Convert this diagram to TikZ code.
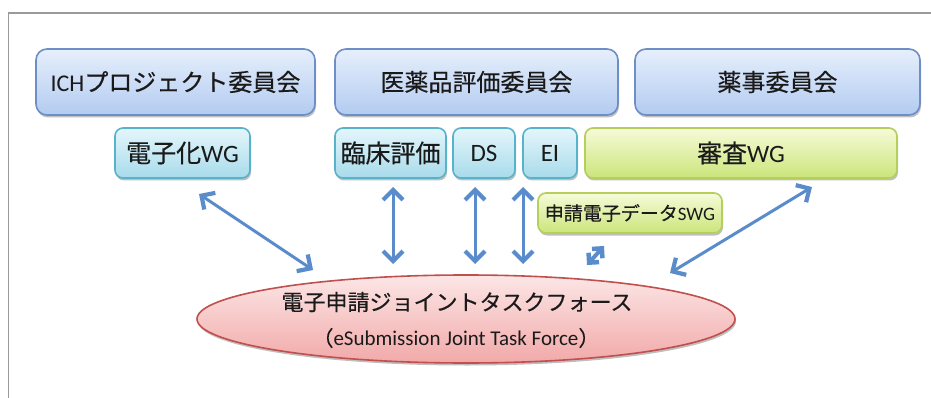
\documentclass[tikz,border=0pt]{standalone}
\usepackage{fontspec}
\setmainfont{Carlito}
\newfontfamily\cjk[FakeBold=0.4]{Noto Sans CJK JP}
\usetikzlibrary{arrows.meta,shadows,shapes.geometric}
\definecolor{frameg}{HTML}{9A9A9A}
\definecolor{blueT}{HTML}{E6EFFC}
\definecolor{blueB}{HTML}{B3CBF1}
\definecolor{blueD}{HTML}{6E8FC6}
\definecolor{cyanT}{HTML}{E4F6FB}
\definecolor{cyanB}{HTML}{A8DBEB}
\definecolor{cyanD}{HTML}{58B3CA}
\definecolor{grnT}{HTML}{F6FBD9}
\definecolor{grnB}{HTML}{CBE57A}
\definecolor{grnD}{HTML}{B5CE5C}
\definecolor{pinkT}{HTML}{FCE6E6}
\definecolor{pinkB}{HTML}{F2A9A9}
\definecolor{pinkD}{HTML}{C0504D}
\definecolor{arr}{HTML}{5A8CCB}
\definecolor{txt}{HTML}{1A1A1A}
\tikzset{
  shadowed/.style={drop shadow={shadow xshift=1pt,shadow yshift=-2.5pt,opacity=0.25,fill=black}},
  topbox/.style={shadowed,draw=blueD,line width=1.6pt,rounded corners=11pt,top color=blueT,bottom color=blueB,
     inner sep=0pt,text=txt,font=\fontsize{24pt}{26pt}\selectfont},
  subbox/.style={shadowed,draw=cyanD,line width=1.6pt,rounded corners=8pt,top color=cyanT,bottom color=cyanB,
     inner sep=0pt,text=txt,font=\fontsize{25pt}{27pt}\selectfont},
  grnbox/.style={shadowed,draw=grnD,line width=1.6pt,rounded corners=8pt,top color=grnT,bottom color=grnB,
     inner sep=0pt,text=txt},
  taskell/.style={shadowed,ellipse,draw=pinkD,line width=1.6pt,top color=pinkT,bottom color=pinkB,inner sep=0pt,
     align=center},
  tip/.tip={Straight Barb[length=10pt,width=20pt,line width=4.2pt 0]},
  smalltip/.tip={Straight Barb[length=7pt,width=14pt,line width=4.5pt 0]},
  link/.style={draw=arr,line width=3pt,tip-tip},
  tinylink/.style={draw=arr,line width=4pt,smalltip-smalltip}
}
\begin{document}
\begin{tikzpicture}[x=1pt,y=-1pt]
\useasboundingbox (0,0) rectangle (931,398);
\fill[white] (0,0) rectangle (931,398);
\draw[frameg,line width=1.5pt] (8.5,398) -- (8.5,13) -- (931,13);
% top row
\node[topbox,minimum width=279pt,minimum height=66pt] (ich) at (175.5,82) {ICH{\cjk プロジェクト委員会}};
\node[topbox,minimum width=283pt,minimum height=66pt] (iyaku) at (476.5,82) {\cjk 医薬品評価委員会};
\node[topbox,minimum width=285pt,minimum height=66pt] (yakuji) at (777.5,82) {\cjk 薬事委員会};
% second row
\node[subbox,minimum width=135pt,minimum height=50pt] (denshi) at (182.5,153) {{\cjk 電子化}WG};
\node[subbox,minimum width=111pt,minimum height=50pt] (rinsho) at (390.5,153) {\cjk 臨床評価};
\node[subbox,minimum width=62pt,minimum height=50pt] (ds) at (484,153) {DS};
\node[subbox,minimum width=54pt,minimum height=50pt] (ei) at (550,153) {EI};
\node[grnbox,minimum width=312pt,minimum height=50pt,font=\fontsize{25pt}{27pt}\selectfont] (shinsa) at (741,153) {{\cjk 審査}WG};
\node[grnbox,minimum width=184pt,minimum height=40pt,font=\fontsize{19pt}{21pt}\selectfont] (swg) at (630,213) {{\cjk 申請電子データ}SWG};
% task force
\node[taskell,minimum width=538pt,minimum height=88pt] (jtf) at (466,319) {};
\node[text=txt,font=\fontsize{22pt}{24pt}\selectfont] (jtf1) at (457,302) {\cjk 電子申請ジョイントタスクフォース};
\node[text=txt,font=\fontsize{21pt}{23pt}\selectfont] (jtf2) at (456,338) {{\cjk （}eSubmission Joint Task Force{\cjk ）}};
% arrow ends
\coordinate (a1s) at (199,194);
\coordinate (a1e) at (313,270);
\coordinate (a2s) at (393,187);
\coordinate (a2e) at (393,264);
\coordinate (a3s) at (475,187);
\coordinate (a3e) at (475,264);
\coordinate (a4s) at (523,187);
\coordinate (a4e) at (523,264);
\coordinate (a5s) at (587,265);
\coordinate (a5e) at (604,246);
\coordinate (a6s) at (812,187);
\coordinate (a6e) at (670,273);
\draw[link] (a1s) -- (a1e);
\draw[link] (a2s) -- (a2e);
\draw[link] (a3s) -- (a3e);
\draw[link] (a4s) -- (a4e);
\draw[tinylink] (a5s) -- (a5e);
\draw[link] (a6s) -- (a6e);
\end{tikzpicture}
\end{document}
